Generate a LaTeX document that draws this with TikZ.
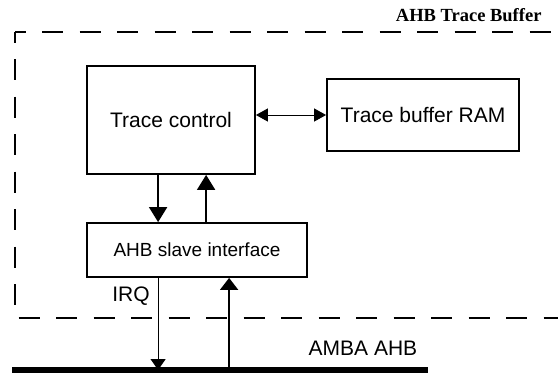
\documentclass[tikz,border=0pt]{standalone}
\usepackage{fontspec}
\setmainfont{Liberation Serif}
\setsansfont{Liberation Sans}
\usetikzlibrary{calc, arrows.meta}

\begin{document}
\begin{tikzpicture}[x=1pt, y=-1pt,
    bloque/.style={draw, line width=1.8pt, inner sep=0pt,
        font=\sffamily\fontsize{21}{25}\selectfont},
    etiqueta/.style={font=\sffamily\fontsize{21}{25}\selectfont},
    flecha/.style={line width=1.8pt, -{Triangle[length=15pt, width=18pt]}},
    doble/.style={line width=1pt,
        {Triangle[length=12pt, width=13pt]}-{Triangle[length=12pt, width=13pt]}},
    punteada/.style={line width=1.6pt, dash pattern=on 21pt off 16.5pt,
        dash phase=10.5pt}]

\useasboundingbox (0,0) rectangle (558,373);

% Bloques del buffer de traza
\node[bloque, minimum width=168pt, minimum height=108pt] (control) at (171,120) {Trace control};
\node[bloque, minimum width=192pt, minimum height=72pt] (ram) at (423,115) {Trace buffer RAM};
\node[bloque, minimum width=220pt, minimum height=54pt,
      font=\sffamily\fontsize{19}{23}\selectfont] (esclavo) at (197,250) {AHB slave interface};

% Contorno punteado y su titulo
\draw[punteada] (15,32) -- (560,32);
\draw[punteada] (15,32) -- (15,318) -- (560,318);
\node[font=\bfseries\fontsize{18.5}{22}\selectfont, anchor=east] (titulo) at (545,15) {AHB Trace Buffer};

% Puntos de conexion sobre la interfaz esclava
\coordinate (baja) at ($(esclavo.north west)+(72,0)$);
\coordinate (sube) at ($(esclavo.north west)+(120,0)$);
\coordinate (irq) at ($(esclavo.south west)+(72,0)$);
\coordinate (entra) at ($(esclavo.south west)+(143,0)$);

% Extremos del bus
\coordinate (busA) at (12,370);
\coordinate (busB) at (428,370);

% Flechas entre bloques
\draw[doble] (control.east |- ram.west) -- (ram.west);
\draw[flecha] (baja |- control.south) -- (baja);
\draw[flecha] (sube) -- (sube |- control.south);

% Conexiones con el bus, dibujadas antes del bus para que este las tape
\draw[line width=1.2pt, -{Triangle[length=11pt, width=15pt]}] (irq) -- (irq |- busA);
\draw[line width=1.8pt, -{Triangle[length=12pt, width=18pt]}] (entra |- busA) -- (entra);
\node[etiqueta] (etqirq) at (131,296) {IRQ};

% Bus AMBA
\draw[line width=6pt] (busA) -- (busB);
\node[etiqueta] (amba) at (363,348) {AMBA AHB};

\end{tikzpicture}
\end{document}
